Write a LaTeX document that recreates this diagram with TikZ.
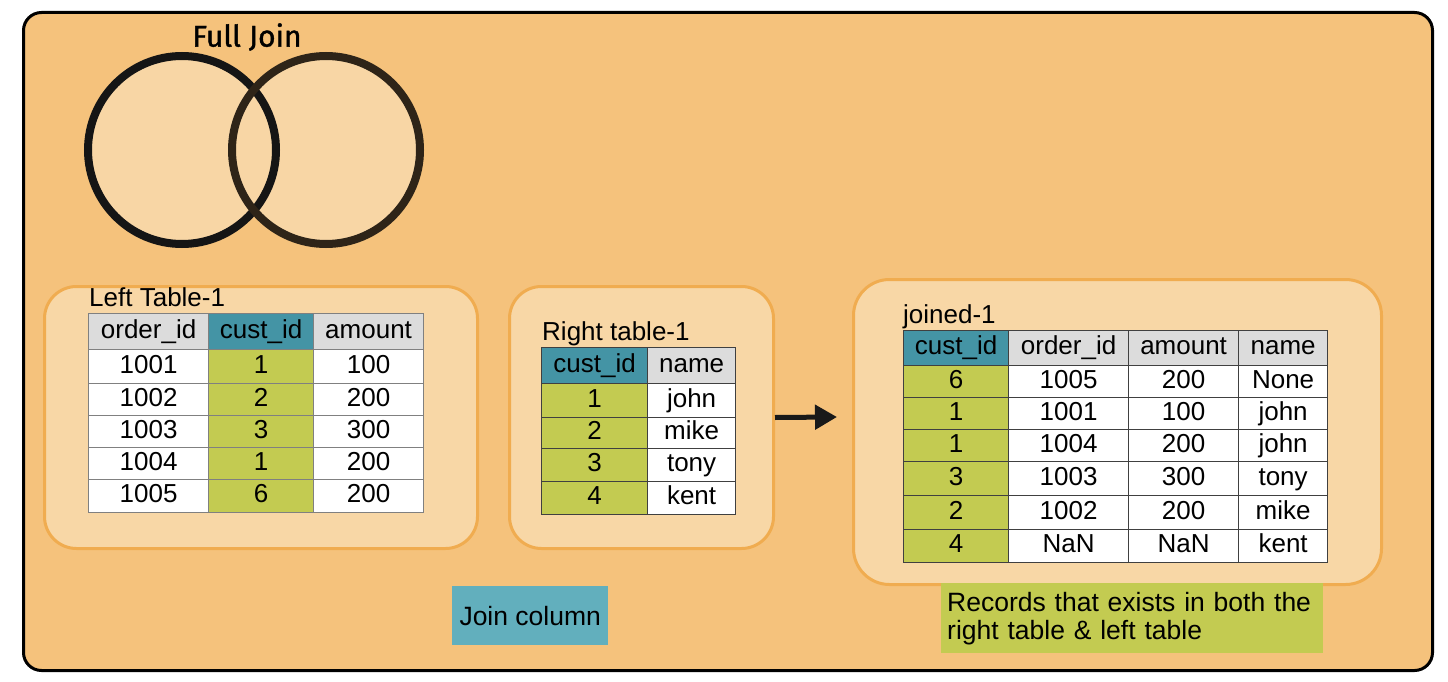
\documentclass[tikz,border=0pt]{standalone}
\usepackage{fontspec}
\setmainfont{Liberation Sans}
\newfontfamily\fjfont[FakeBold=1.2]{Fira Sans}
\usetikzlibrary{arrows.meta}
\definecolor{framefill}{HTML}{F5C27C}
\definecolor{boxfill}{HTML}{F8D7A6}
\definecolor{boxline}{HTML}{F0AC50}
\definecolor{keyteal}{HTML}{4494A5}
\definecolor{hdgrey}{HTML}{DCDCDC}
\definecolor{keygreen}{HTML}{C3CB51}
\definecolor{legteal}{HTML}{62AFBD}
\definecolor{venndark}{HTML}{151515}
\definecolor{vennbrown}{HTML}{2E2418}
\definecolor{vennfill}{HTML}{F8D6A5}
\newcommand\tabcell[7]{\node[cell,#6,minimum width={(#4-#2)*1pt},minimum height={(#5-#3)*1pt},anchor=north west] (#1) at (#2,#3) {#7};}
\begin{document}
\begin{tikzpicture}[x=1pt,y=-1pt,
  cell/.style={inner sep=0pt, line width=1.2pt, text height=18.5pt, text depth=5pt, font=\fontsize{26}{28}\selectfont},
  hd/.style={fill=hdgrey},
  key/.style={fill=keyteal},
  grn/.style={fill=keygreen},
  wht/.style={fill=white},
  lt/.style={draw=black!50},
  dk/.style={draw=black!75},
  tbox/.style={draw=boxline, line width=3pt, fill=boxfill, rounded corners=32pt, inner sep=0pt, anchor=north west},
  ttl/.style={anchor=base west, inner sep=0pt, font=\fontsize{26}{28}\selectfont},
  legend/.style={inner sep=0pt, font=\fontsize{26.5}{28}\selectfont}
]
\useasboundingbox (0,0) rectangle (1448,682);
% outer frame
\draw[line width=3pt, fill=framefill, rounded corners=18pt] (23.5,12.5) rectangle (1432.5,670.5);

% Venn diagram
\fill[vennfill] (182,150) circle (94);
\fill[vennfill] (326,150) circle (94);
\draw[venndark, line width=8pt] (182,150) circle (94);
\draw[vennbrown, line width=8pt] (326,150) circle (94);
\node[inner sep=0pt, font=\fjfont\fontsize{30}{32}\selectfont] (title) at (247,37) {Full Join};

% boxes
\node[tbox, minimum width=433pt, minimum height=262pt] (lbox) at (43,285) {};
\node[tbox, minimum width=264pt, minimum height=262pt] (rbox) at (508,285) {};
\node[tbox, minimum width=528pt, minimum height=305pt, rounded corners=36pt] (jbox) at (852,278) {};

% titles
\node[ttl] (ltitle) at (89,306) {Left Table-1};
\node[ttl] (rtitle) at (542,340) {Right table-1};
\node[ttl] (jtitle) at (903,323) {joined-1};

% left table
\tabcell{Lh1}{88}{313}{208}{349}{lt,hd}{order\_id}
\tabcell{Lh2}{208}{313}{313}{349}{lt,key}{cust\_id}
\tabcell{Lh3}{313}{313}{423}{349}{lt,hd}{amount}
\foreach \r/\ya/\yb/\a/\b/\c in {1/349/383/1001/1/100, 2/383/415/1002/2/200, 3/415/447/1003/3/300, 4/447/479/1004/1/200, 5/479/512/1005/6/200} {
  \tabcell{L\r a}{88}{\ya}{208}{\yb}{lt,wht}{\a}
  \tabcell{L\r b}{208}{\ya}{313}{\yb}{lt,grn}{\b}
  \tabcell{L\r c}{313}{\ya}{423}{\yb}{lt,wht}{\c}
}

% right table
\tabcell{Rh1}{541}{347}{647}{383}{dk,key}{cust\_id}
\tabcell{Rh2}{647}{347}{735}{383}{dk,hd}{name}
\foreach \r/\ya/\yb/\a/\b in {1/383/417/1/john, 2/417/448/2/mike, 3/448/481/3/tony, 4/481/514/4/kent} {
  \tabcell{R\r a}{541}{\ya}{647}{\yb}{dk,grn}{\a}
  \tabcell{R\r b}{647}{\ya}{735}{\yb}{dk,wht}{\b}
}

% joined table
\tabcell{Jh1}{903}{330}{1008}{365}{dk,key}{cust\_id}
\tabcell{Jh2}{1008}{330}{1128}{365}{dk,hd}{order\_id}
\tabcell{Jh3}{1128}{330}{1238}{365}{dk,hd}{amount}
\tabcell{Jh4}{1238}{330}{1327}{365}{dk,hd}{name}
\foreach \r/\ya/\yb/\a/\b/\c/\d in {1/365/397/6/1005/200/None, 2/397/429/1/1001/100/john, 3/429/461/1/1004/200/john, 4/461/495/3/1003/300/tony, 5/495/529/2/1002/200/mike, 6/529/562/4/NaN/NaN/kent} {
  \tabcell{J\r a}{903}{\ya}{1008}{\yb}{dk,grn}{\a}
  \tabcell{J\r b}{1008}{\ya}{1128}{\yb}{dk,wht}{\b}
  \tabcell{J\r c}{1128}{\ya}{1238}{\yb}{dk,wht}{\c}
  \tabcell{J\r d}{1238}{\ya}{1327}{\yb}{dk,wht}{\d}
}

% arrow
\coordinate (arrEnd) at (837,417);
\draw[line width=5pt, black!90, -{Triangle[length=22pt,width=24pt]}] (rbox.east) -- (arrEnd);

% legends
\node[legend, fill=legteal, minimum width=156pt, minimum height=59pt, anchor=north west] (legJoin) at (452,586) {Join column};
\node[legend, fill=keygreen, minimum width=382pt, minimum height=70pt, anchor=north west, text width=370pt, align=left, inner xsep=6pt] (legRec) at (941,583) {Records that exists in both the\\right table \& left table};
\end{tikzpicture}
\end{document}
